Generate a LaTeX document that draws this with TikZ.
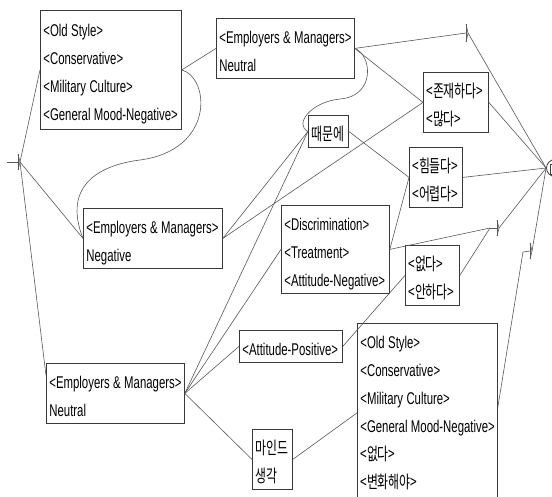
\documentclass[tikz,border=0pt]{standalone}
\usepackage{fontspec}
\setmainfont{Liberation Sans}[FakeStretch=0.67]
\newfontfamily\krfont{Noto Sans CJK KR}[FakeStretch=0.68]
\newcommand\latf{\fontsize{17}{28}\selectfont}
\newcommand\krf{\krfont\fontsize{17.5}{28}\selectfont}
\newcommand\mystrut{\rule[-5pt]{0pt}{28pt}}
\newcommand\mystrutlong{\rule[-12pt]{0pt}{35pt}}
\newcommand\lin[1]{\mystrut\mbox{\spaceskip=3.4pt\relax #1}}
\tikzset{
  box/.style={draw=black!78, line width=0.8pt, anchor=north west, inner xsep=3pt, inner ysep=2pt, align=left, font=\latf},
  kbox/.style={box, font=\krf},
  conn/.style={draw=black!65, line width=0.6pt},
}
\begin{document}
\begin{tikzpicture}[x=1pt, y=-1pt]
\useasboundingbox (0,0) rectangle (552,496);
\fill[white] (0,0) rectangle (552,496);
\clip (0,0) rectangle (552,496);

% boxes
\node[box, text width=135pt, minimum height=119pt] (A) at (40,10) {\lin{<Old Style>}\\\lin{<Conservative>}\\\lin{<Military Culture>}\\\lin{<General Mood-Negative>}};
\node[box, text width=132pt] (C) at (216,18) {\lin{<Employers \& Managers>}\\\lin{Neutral}};
\node[box, text width=133pt] (B) at (83,208) {\lin{<Employers \& Managers>}\\\lin{Negative}};
\node[box, text width=132pt] (E) at (46,363) {\lin{<Employers \& Managers>}\\\lin{Neutral}};
\node[kbox, text width=34pt] (D) at (308,115) {\lin{때문에}};
\node[kbox, text width=59pt] (F) at (423,72) {\lin{<존재하다>}\\\lin{<많다>}};
\node[kbox, text width=47pt] (G) at (409,147) {\lin{<힘들다>}\\\lin{<어렵다>}};
\node[box, text width=102pt] (H) at (281,205) {\lin{<Discrimination>}\\\lin{<Treatment>}\\\lin{<Attitude-Negative>}};
\node[kbox, text width=48pt] (I) at (405,245) {\lin{<없다>}\\\lin{<안하다>}};
\node[box, text width=97pt] (J) at (239,330) {\lin{<Attitude-Positive>}};
\node[box, text width=134pt] (K) at (357,323) {\lin{<Old Style>}\\\lin{<Conservative>}\\\lin{<Military Culture>}\\\lin{<General Mood-Negative>}\\\lin{\krf <없다>}\\\mystrutlong\mbox{\krf <변화해야>}};
\node[kbox, text width=34pt] (L) at (252,429) {\lin{마인드}\\\lin{생각}};

% end node
\node[circle, draw=black!75, line width=0.8pt, minimum size=17pt, inner sep=0pt] (end) at (555,168) {};
\draw[black!75, line width=0.7pt] (557,164.5) -- (550,164.5) -- (550,174.5) -- (557,174.5);

% start
\coordinate (s0) at (7,162);
\coordinate (s) at (20,162);
\draw[conn] (s0) -- (18,162);
\draw[conn] (18,154) -- (18,170);
\draw[conn] (18,154) -- (s) -- (18,170);

% junction markers
\coordinate (m1in) at (466,33);
\coordinate (m1) at (468,33);
\draw[conn] (466,24) -- (466,42);
\draw[conn] (466,24) -- (m1) -- (466,42);

\coordinate (m2in) at (490,228);
\coordinate (m2) at (499,228);
\draw[conn] (m2in) -- (497,228);
\draw[conn] (497,220) -- (497,236);
\draw[conn] (497,220) -- (m2) -- (497,236);

\coordinate (m3in) at (523,252);
\coordinate (m3) at (532,251);
\draw[conn] (m3in) -- (530,251);
\draw[conn] (530,243) -- (530,259);
\draw[conn] (530,243) -- (m3) -- (530,259);

% connectors
\draw[conn] (s) -- (A.west);
\draw[conn] (s) -- (B.west);
\draw[conn] (s) -- ([yshift=18pt]E.west);
\draw[conn] (A.east) -- (C.west);
\draw[conn] (A.east) .. controls (210,78) and (215,150) .. (140,160) .. controls (100,165) and (62,185) .. (B.west);
\draw[conn] (C.east) -- (m1in);
\draw[conn] (C.east) -- (F.west);
\draw[conn] (C.east) .. controls (372,55) and (376,96) .. (340,99) .. controls (310,102) and (294,125) .. (D.west);
\draw[conn] (B.east) -- (D.west);
\draw[conn] (B.east) -- (F.west);
\draw[conn] (E.east) -- (D.west);
\draw[conn] (E.east) -- (H.west);
\draw[conn] (E.east) -- (J.west);
\draw[conn] (E.east) -- (L.west);
\draw[conn] (D.east) -- (G.west);
\draw[conn] (H.east) -- (G.west);
\draw[conn] (H.east) -- (m2in);
\draw[conn] (I.east) -- (m2in);
\draw[conn] (J.east) -- (I.west);
\draw[conn] (L.east) -- (K.west);
\draw[conn] ([yshift=5.5pt]K.east) -- (m3in);
\draw[conn] (m1) -- (end.west);
\draw[conn] (F.east) -- (end.west);
\draw[conn] (G.east) -- (end.west);
\draw[conn] (m2) -- (end.west);
\draw[conn] (m3) -- (end.west);
\end{tikzpicture}
\end{document}
